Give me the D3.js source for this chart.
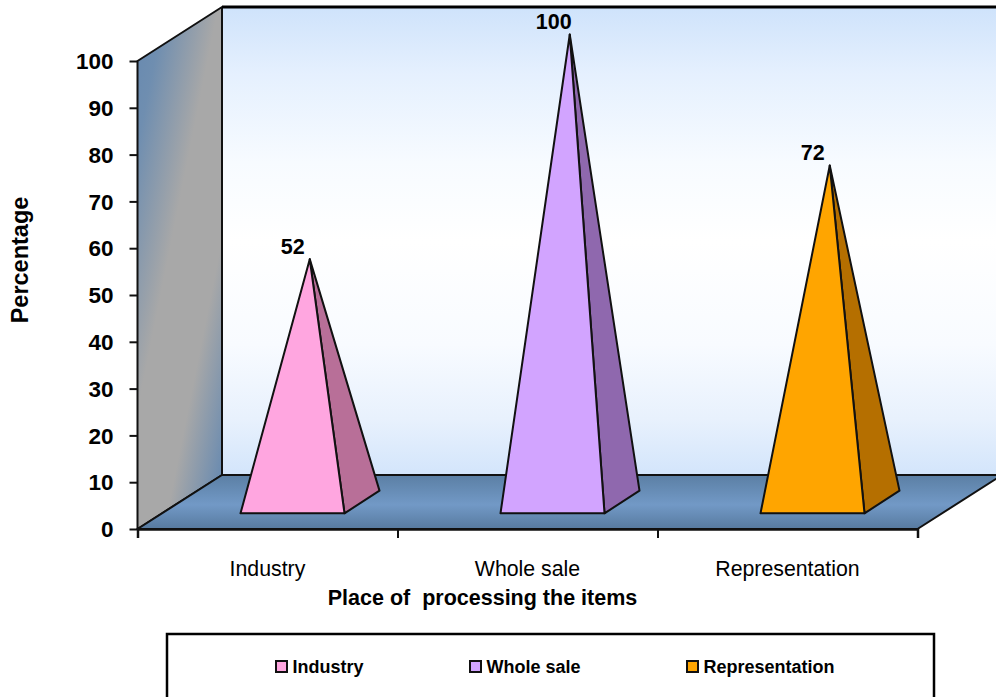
<!DOCTYPE html>
<html><head><meta charset="utf-8">
<script src="https://cdn.jsdelivr.net/npm/d3@7/dist/d3.min.js"></script>
<style>
html,body{margin:0;padding:0;background:#fff;overflow:hidden}
text{font-family:"Liberation Sans",Arial,sans-serif;fill:#000}
</style></head><body>
<script>
const categories = ["Industry", "Whole sale", "Representation"];
const values = [52, 100, 72];
const yTicks = [0,10,20,30,40,50,60,70,80,90,100];
const frontColors = ["#ffa6e0", "#d2a4ff", "#ffa500"];
const sideColors = ["#b86f98", "#8f68ae", "#b56f00"];
const xTitle = "Place of  processing the items";
const yTitle = "Percentage";

const W = 996, H = 697;
const svg = d3.select("body").append("svg").attr("width", W).attr("height", H).style("display","block");

const x0 = 137.5, x1 = 917.5, yBase = 529, yTop = 61;
const depthX = 84.5, depthY = 54;
const y = d3.scaleLinear().domain([0,100]).range([yBase,yTop]);
const x = d3.scaleBand().domain(categories).range([x0,x1]).paddingInner(0).paddingOuter(0);
const halfBase = 52, nearDepth = 0.29, farDepth = 0.71;

const defs = svg.append("defs");
function grad(id, attrs, stops){
  const g = defs.append("linearGradient").attr("id", id).attr("gradientUnits","userSpaceOnUse");
  Object.entries(attrs).forEach(([k,v])=>g.attr(k,v));
  stops.forEach(([o,c])=>g.append("stop").attr("offset",o).attr("stop-color",c));
}
grad("wall",{x1:0,y1:8,x2:0,y2:475},[[0,"#cfe3fb"],[0.14,"#e5f0fe"],[0.33,"#f7fbff"],[0.5,"#ffffff"],[0.72,"#f8fbff"],[0.88,"#e8f1fd"],[1,"#d3e5fb"]]);
grad("side",{x1:130,y1:100,x2:290,y2:132},[[0,"#6a8bb0"],[0.1,"#6f8eb0"],[0.42,"#a8a8a8"],[0.72,"#a8a8a8"],[1,"#6a8bb0"]]);
grad("floor",{x1:0,y1:475,x2:0,y2:529},[[0,"#5b7fa4"],[0.55,"#7299c6"],[1,"#577a9f"]]);

const line = d3.line();
// Walls & floor
svg.append("path").attr("d", line([[x0+depthX,yBase-depthY],[x1+depthX,yBase-depthY],[x1+depthX,yTop-depthY],[x0+depthX,yTop-depthY]])+"Z").attr("fill","url(#wall)");
svg.append("path").attr("d", line([[x0,yBase],[x0+depthX,yBase-depthY],[x0+depthX,yTop-depthY],[x0,yTop]])+"Z").attr("fill","url(#side)").attr("stroke","#111").attr("stroke-width",2).attr("stroke-linejoin","round");
svg.append("path").attr("d", line([[x0,yBase],[x1,yBase],[x1+depthX,yBase-depthY],[x0+depthX,yBase-depthY]])+"Z").attr("fill","url(#floor)").attr("stroke","#111").attr("stroke-width",2).attr("stroke-linejoin","round");
svg.append("path").attr("d", line([[x0+depthX,yTop-depthY],[W+10,yTop-depthY]])).attr("stroke","#000").attr("stroke-width",3).attr("fill","none");

// Pyramids
const gp = svg.append("g").selectAll("g").data(categories).join("g");
function corners(c,i){
  const cx = x(c)+x.bandwidth()/2;
  const fx = cx + depthX*nearDepth, bx = cx + depthX*farDepth;
  const fy = yBase - depthY*nearDepth, by = yBase - depthY*farDepth;
  const apex = [cx + depthX/2, y(values[i]) - depthY/2 + 0.5];
  return {fl:[fx-halfBase+0.5,fy], fr:[fx+halfBase+0.5,fy], br:[bx+halfBase,by], apex};
}
gp.append("path").attr("d",(c,i)=>{const k=corners(c,i);return line([k.fr,k.br,k.apex])+"Z"})
  .attr("fill",(c,i)=>sideColors[i]).attr("stroke","#111").attr("stroke-width",2).attr("stroke-linejoin","round");
gp.append("path").attr("d",(c,i)=>{const k=corners(c,i);return line([k.fl,k.fr,k.apex])+"Z"})
  .attr("fill",(c,i)=>frontColors[i]).attr("stroke","#111").attr("stroke-width",2).attr("stroke-linejoin","round");
gp.append("text").text((c,i)=>values[i])
  .attr("x",(c,i)=>corners(c,i).apex[0]-(i==1?16:17)).attr("y",(c,i)=>corners(c,i).apex[1]-5.5)
  .attr("text-anchor","middle").attr("font-weight","bold").attr("font-size",21.5);

// Axes
const yAxis = d3.axisLeft(y).tickValues(yTicks).tickSize(8).tickPadding(16);
const gy = svg.append("g").attr("transform",`translate(${x0},0)`).call(yAxis);
gy.select(".domain").remove();
gy.selectAll("line").attr("stroke","#111").attr("stroke-width",2);
gy.selectAll("text").attr("font-size",22.5).attr("font-weight","bold").attr("font-family","Liberation Sans").attr("fill","#000").attr("dy","0.34em");

const xEdges = d3.scaleLinear().domain([0,categories.length]).range([x0,x1]);
const xAxis = d3.axisBottom(xEdges).tickValues(d3.range(categories.length+1)).tickSize(9).tickFormat("");
const gx = svg.append("g").attr("transform",`translate(0,${yBase})`).call(xAxis);
gx.select(".domain").attr("stroke","#111").attr("stroke-width",2.5);
gx.selectAll("line").attr("stroke","#111").attr("stroke-width",2);

svg.append("g").selectAll("text").data(categories).join("text")
  .attr("x",c=>x(c)+x.bandwidth()/2).attr("y",576).attr("text-anchor","middle")
  .attr("font-size",21.3).text(c=>c);

svg.append("text").attr("x",482.5).attr("y",605).attr("text-anchor","middle").attr("font-weight","bold").attr("font-size",21.5).style("white-space","pre").text(xTitle);
svg.append("text").attr("transform","translate(28,260) rotate(-90)").attr("text-anchor","middle").attr("font-weight","bold").attr("font-size",23.5).text(yTitle);

// Legend
svg.append("rect").attr("x",167).attr("y",634).attr("width",767).attr("height",70).attr("fill","#fff").attr("stroke","#000").attr("stroke-width",2.5);
const legendX = d3.scaleOrdinal().domain(categories).range([275,469,686]);
const lg = svg.append("g").selectAll("g").data(categories).join("g").attr("transform",c=>`translate(${legendX(c)},660)`);
lg.append("rect").attr("x",1).attr("y",1).attr("width",11).attr("height",11).attr("fill",(c,i)=>frontColors[i]).attr("stroke","#111").attr("stroke-width",2);
lg.append("text").attr("x",17.5).attr("y",13).attr("font-weight","bold").attr("font-size",18).text(c=>c);
</script>
</body></html>
